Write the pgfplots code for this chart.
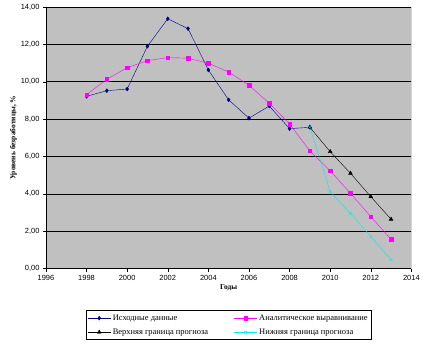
\documentclass[border=0pt]{standalone}
\usepackage{fontspec}
\setmainfont{Liberation Serif}
\newfontfamily\arialf{Liberation Sans}
\usepackage{pgfplots}
\pgfplotsset{compat=1.18}
\definecolor{navyc}{RGB}{0,0,128}
\definecolor{magc}{RGB}{255,0,255}
\definecolor{cyanc}{RGB}{0,235,235}
\definecolor{bgc}{RGB}{192,192,192}
\begin{document}
\begin{tikzpicture}
\begin{axis}[
  scale only axis,
  width=366bp, height=262bp,
  xmin=1996, xmax=2014, ymin=0, ymax=14,
  xtick={1996,1998,...,2014},
  ytick={0,2,...,14},
  tick align=outside,
  tick style={black, thin},
  major tick length=3bp,
  x tick label style={/pgf/number format/1000 sep={}},
  y tick label style={/pgf/number format/.cd, fixed, fixed zerofill, precision=2, use comma},
  /pgf/number format/assume math mode=true,
  ticklabel style={font=\arialf\fontsize{7.5}{9}\selectfont},
  ymajorgrids,
  grid style={black, line width=0.6pt},
  axis background/.style={fill=bgc},
  axis line style={black, line width=0.5pt},
  axis x line*=bottom, axis y line*=left,
  xlabel={\textbf{Годы}},
  ylabel={\textbf{Уровень безработицы, \%}},
  label style={font=\fontsize{7.5}{9}\selectfont},
  xlabel style={yshift=3bp},
  ylabel style={yshift=-3bp},
  legend columns=2,
  legend style={at={(0.5,-0.16)}, anchor=north, draw=black, font=\fontsize{8.5}{10}\selectfont,
    /tikz/every even column/.append style={column sep=24bp}, inner sep=2pt, row sep=3pt},
  legend image code/.code={
    \draw[mark repeat=2,mark phase=2] plot coordinates {(0cm,0cm) (0.4cm,0cm) (0.8cm,0cm)};},
  legend cell align=left,
]
\addplot[navyc, mark=diamond*, mark size=2pt, thin] coordinates {
 (1998,9.22) (1999,9.52) (2000,9.61) (2001,11.90) (2002,13.37) (2003,12.84)
 (2004,10.63) (2005,9.03) (2006,8.05) (2007,8.70) (2008,7.49) (2009,7.56)};
\addlegendentry{Исходные данные}
\addplot[magc, mark=square*, mark size=1.8pt, thin] coordinates {
 (1998,9.31) (1999,10.13) (2000,10.75) (2001,11.13) (2002,11.29) (2003,11.26)
 (2004,10.99) (2005,10.52) (2006,9.81) (2007,8.85) (2008,7.74) (2009,6.30)
 (2010,5.24) (2011,4.03) (2012,2.78) (2013,1.57)};
\addlegendentry{Аналитическое выравнивание}
\addplot[black, mark=triangle*, mark size=2.2pt, thin] coordinates {
 (2009,7.56) (2010,6.26) (2011,5.10) (2012,3.85) (2013,2.64)};
\addlegendentry{Верхняя граница прогноза}
\addplot[cyanc, mark=x, mark size=2pt, thin] coordinates {
 (2009,7.56) (2010,4.12) (2011,2.96) (2012,1.71) (2013,0.47)};
\addlegendentry{Нижняя граница прогноза}
\draw[gray, thin] (axis cs:2014,0) -- (axis cs:2014,14);
\end{axis}
\path (current axis.south west) ++(-46bp,-76bp) coordinate (bl);
\path (current axis.north east) ++(11bp,7bp) coordinate (tr);
\useasboundingbox (bl) rectangle (tr);
\end{tikzpicture}
\end{document}
